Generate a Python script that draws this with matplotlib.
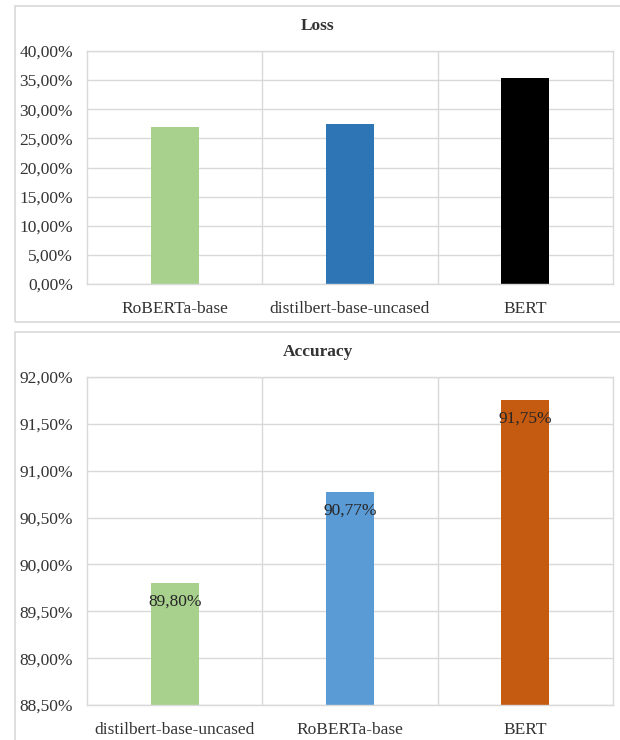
import matplotlib
matplotlib.use('Agg')
import matplotlib.pyplot as plt
from matplotlib.patches import Rectangle
from matplotlib.ticker import FuncFormatter

plt.rcParams['font.family'] = ['Liberation Serif', 'DejaVu Serif']
plt.rcParams['font.size'] = 12.5

loss_models = ['RoBERTa-base', 'distilbert-base-uncased', 'BERT']
loss_values = [27.0, 27.45, 35.4]
loss_colors = ['#a9d18e', '#2e75b6', '#000000']

acc_models = ['distilbert-base-uncased', 'RoBERTa-base', 'BERT']
acc_values = [89.80, 90.77, 91.75]
acc_colors = ['#a9d18e', '#5b9bd5', '#c55a11']

grid_col = '#d9d9d9'
text_col = '#333333'

fig = plt.figure(figsize=(6.2, 7.4), dpi=100)

# chart frames
fig.patches.append(Rectangle((15 / 620, 1 - 322 / 740), 0.99, 316 / 740, transform=fig.transFigure,
                             fill=False, edgecolor=grid_col, lw=1.2))
fig.patches.append(Rectangle((15 / 620, -0.01), 0.99, 1 - 332 / 740 + 0.01, transform=fig.transFigure,
                             fill=False, edgecolor=grid_col, lw=1.2))


def pct(v, pos):
    return ('%.2f%%' % v).replace('.', ',')


def style(ax, names, lo, hi, step):
    ax.set_xlim(-0.5, len(names) - 0.5)
    ax.set_ylim(lo, hi)
    ax.set_yticks([lo + i * step for i in range(int(round((hi - lo) / step)) + 1)])
    ax.yaxis.set_major_formatter(FuncFormatter(pct))
    ax.set_xticks(range(len(names)))
    ax.set_xticklabels(names)
    ax.set_xticks([i + 0.5 for i in range(len(names) - 1)], minor=True)
    ax.grid(axis='y', which='major', color=grid_col, lw=1)
    ax.grid(axis='x', which='minor', color=grid_col, lw=1)
    ax.set_axisbelow(True)
    ax.tick_params(axis='both', which='both', length=0, colors=text_col, labelsize=12.5)
    ax.tick_params(axis='y', pad=10)
    ax.tick_params(axis='x', pad=12)
    for s in ax.spines.values():
        s.set_color(grid_col)
        s.set_linewidth(1)


ax1 = fig.add_axes([87 / 620, 1 - 284 / 740, 526 / 620, 233 / 740])
ax1.bar(range(3), loss_values, width=0.275, color=loss_colors)
style(ax1, loss_models, 0, 40, 5)
fig.text(318 / 620, 1 - 26 / 740, 'Loss', ha='center', va='center', fontsize=12.5,
         fontweight='bold', color=text_col)

ax2 = fig.add_axes([87 / 620, 1 - 705 / 740, 526 / 620, 328 / 740])
bars = ax2.bar(range(3), acc_values, width=0.275, color=acc_colors)
style(ax2, acc_models, 88.5, 92.0, 0.5)
for b, v in zip(bars, acc_values):
    ax2.annotate(pct(v, None), (b.get_x() + b.get_width() / 2, v), xytext=(0, -13),
                 textcoords='offset points', ha='center', va='center', fontsize=12.5, color='#262626')
fig.text(318 / 620, 1 - 352 / 740, 'Accuracy', ha='center', va='center', fontsize=12.5,
         fontweight='bold', color=text_col)

fig.savefig('out.png', dpi=100)
